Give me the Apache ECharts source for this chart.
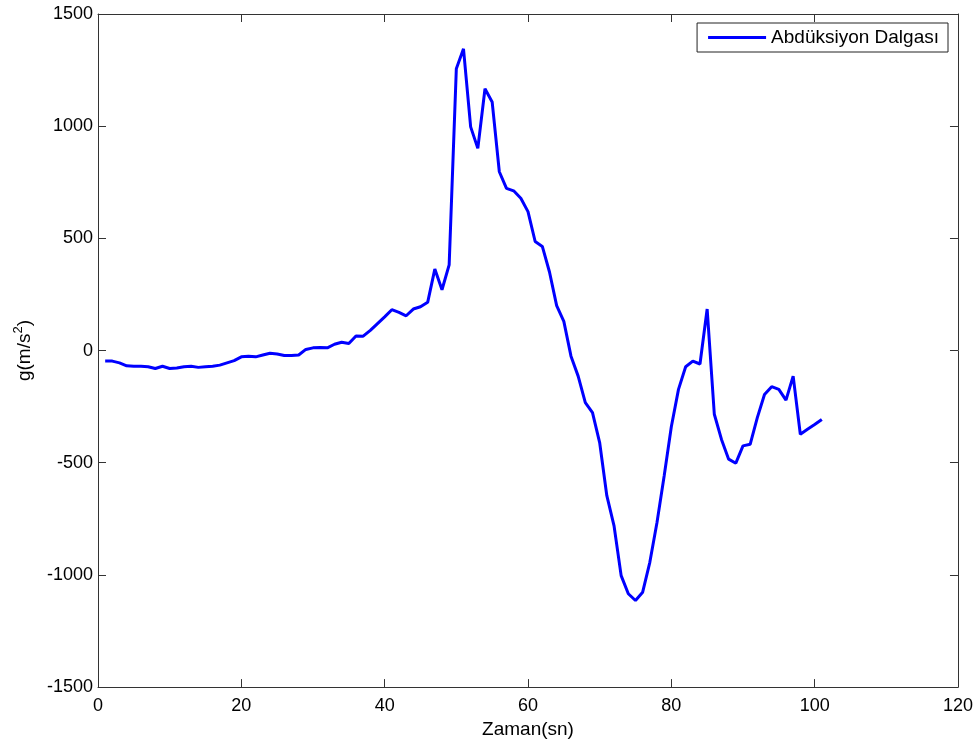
<!DOCTYPE html>
<html><head><meta charset="utf-8">
<script src="https://cdn.jsdelivr.net/npm/echarts@6/dist/echarts.min.js"></script>
<style>html,body{margin:0;padding:0;background:#fff}#c{width:976px;height:744px}</style>
</head><body><div id="c"></div>
<script>
const seriesName = 'Abdüksiyon Dalgası';
const xTicks = [0, 20, 40, 60, 80, 100, 120];
const yTicks = [-1500, -1000, -500, 0, 500, 1000, 1500];
const times = [];
for (let i = 1; i <= 101; i++) times.push(i);
const values = [
  -47, -47, -55, -68, -70, -70, -72, -80, -70, -80,
  -78, -72, -70, -75, -72, -70, -65, -55, -45, -28,
  -25, -28, -20, -12, -15, -22, -22, -20, 5, 12,
  14, 12, 28, 37, 31, 65, 64, 90, 120, 150,
  182, 170, 155, 185, 195, 215, 363, 271, 382, 1256,
  1345, 997, 901, 1167, 1108, 797, 723, 712, 679, 619,
  486, 464, 350, 200, 130, -25, -114, -232, -277, -410,
  -647, -780, -1003, -1084, -1114, -1077, -944, -766, -559, -340,
  -173, -72, -47, -60, 185, -284, -396, -484, -502, -425,
  -418, -299, -196, -161, -173, -221, -114, -373, -351, -330,
  -307
];
const data = times.map((t, i) => [t, values[i]]);
const font = 'Liberation Sans, Arial, sans-serif';
const axisCommon = {
  axisLine: { show: true, onZero: false, lineStyle: { color: '#333', width: 1 } },
  axisTick: { show: true, inside: true, length: 8, lineStyle: { color: '#333' } },
  splitLine: { show: false }
};
const fmt = v => String(v);
const chart = echarts.init(document.getElementById('c'));
chart.setOption({
  animation: false,
  backgroundColor: '#fff',
  grid: { left: 98, right: 16, top: 14, bottom: 56 },
  legend: {
    data: [seriesName], right: 28, top: 23,
    orient: 'horizontal',
    itemWidth: 58, itemHeight: 3, itemGap: 6,
    padding: [5, 9, 5, 11],
    borderColor: '#222', borderWidth: 1, backgroundColor: '#fff',
    icon: 'rect',
    textStyle: { fontFamily: font, fontSize: 19, color: '#000' }
  },
  xAxis: [
    Object.assign({
      type: 'value', min: xTicks[0], max: xTicks[xTicks.length - 1], interval: xTicks[1] - xTicks[0],
      name: 'Zaman(sn)', nameLocation: 'middle', nameGap: 30,
      nameTextStyle: { fontFamily: font, fontSize: 19, color: '#000' },
      axisLabel: { fontFamily: font, fontSize: 18, color: '#000', margin: 10, formatter: fmt }
    }, axisCommon),
    Object.assign({
      type: 'value', min: xTicks[0], max: xTicks[xTicks.length - 1], interval: xTicks[1] - xTicks[0], position: 'top',
      axisLabel: { show: false }
    }, axisCommon)
  ],
  yAxis: [
    Object.assign({
      type: 'value', min: yTicks[0], max: yTicks[yTicks.length - 1], interval: yTicks[1] - yTicks[0],
      name: '{a|g(m/s}{s|2}{a|)}', nameLocation: 'middle', nameGap: 61,
      nameTextStyle: { fontFamily: font, fontSize: 19, color: '#000',
        rich: { a: { fontFamily: font, fontSize: 19, color: '#000' },
                s: { fontFamily: font, fontSize: 13, color: '#000', verticalAlign: 'top', padding: [0, 0, 12, 0] } } },
      axisLabel: { fontFamily: font, fontSize: 18, color: '#000', margin: 5, formatter: fmt }
    }, axisCommon),
    Object.assign({
      type: 'value', min: yTicks[0], max: yTicks[yTicks.length - 1], interval: yTicks[1] - yTicks[0], position: 'right',
      axisLabel: { show: false }
    }, axisCommon)
  ],
  series: [{
    name: seriesName, type: 'line', data: data,
    xAxisIndex: 0, yAxisIndex: 0,
    showSymbol: false, symbol: 'none',
    lineStyle: { color: '#0000ff', width: 3 },
    itemStyle: { color: '#0000ff' }
  }]
});
</script></body></html>
